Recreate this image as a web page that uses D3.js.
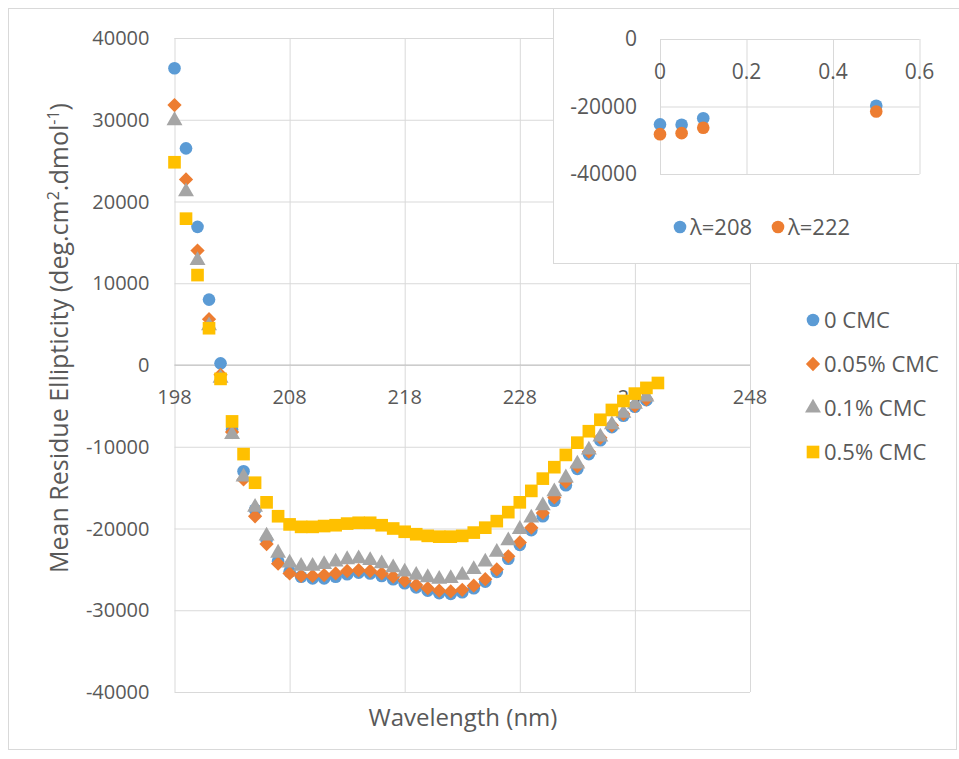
<!DOCTYPE html>
<html lang="en">

<head>
  <meta charset="UTF-8">
  <title>CD spectra</title>
  <script src="https://d3js.org/d3.v7.min.js"></script>
  <style>
    body {
      margin: 0;
      background: #fff;
    }

    text {
      font-family: "Open Sans", sans-serif;
      fill: #595959;
    }

    .grid line {
      stroke: #d9d9d9;
      stroke-width: 1;
    }
  </style>
</head>

<body>
  <div id="chart"></div>
  <script>
    // wavelengths, 1 nm steps
    const wavelengths = d3.range(198, 241);

    const cmc0 = [36300, 26500, 16900, 8000, 200, -7900, -13000, -17700, -21400, -24000,
      -25300, -25900, -26100, -26100, -25900, -25600, -25400, -25500, -25800, -26200,
      -26700, -27200, -27600, -27900, -28000, -27800, -27300, -26500, -25300, -23700,
      -22000, -20200, -18500, -16600, -14700, -12700, -10900, -9200, -7600, -6200,
      -5100, -4300];
    const cmc005 = [31800, 22700, 14000, 5600, -1200, -8200, -14000, -18500, -21900, -24300,
      -25500, -25800, -25800, -25700, -25500, -25200, -25100, -25200, -25500, -25900,
      -26400, -26900, -27300, -27600, -27700, -27500, -27000, -26200, -25000, -23400,
      -21700, -19900, -18100, -16200, -14300, -12400, -10600, -8900, -7400, -6000,
      -5000, -4200];
    const cmc01 = [29900, 21200, 12800, 4800, -1600, -8500, -13700, -17400, -20900, -23000,
      -24200, -24600, -24600, -24400, -24100, -23800, -23700, -23900, -24300, -24800,
      -25300, -25700, -26000, -26200, -26100, -25700, -25000, -24100, -22900, -21500,
      -20100, -18700, -17200, -15500, -13800, -12100, -10400, -8800, -7300, -5900,
      -4800, -3900];
    const cmc05 = [24800, 17900, 11000, 4500, -1700, -6900, -10900, -14400, -16800, -18500,
      -19500, -19800, -19800, -19700, -19600, -19400, -19300, -19300, -19600, -20000,
      -20400, -20700, -20900, -21000, -21000, -20900, -20500, -19900, -19100, -18000,
      -16800, -15400, -13900, -12500, -11000, -9500, -8100, -6700, -5500, -4400,
      -3500, -2800, -2200];

    const seriesNames = ["0 CMC", "0.05% CMC", "0.1% CMC", "0.5% CMC"];
    const xTicks = [198, 208, 218, 228, 238, 248];
    const yTicks = [40000, 30000, 20000, 10000, 0, -10000, -20000, -30000, -40000];

    // inset: concentration vs ellipticity at two wavelengths
    const insetConc = [0, 0.05, 0.1, 0.5];
    const lambda208 = [-25300, -25400, -23500, -19800];
    const lambda222 = [-28200, -27900, -26300, -21500];
    const insetNames = ["λ=208", "λ=222"];
    const insetXTicks = [0, 0.2, 0.4, 0.6];
    const insetYTicks = [0, -20000, -40000];

    const width = 959;
    const height = 759;

    const svg = d3.select("#chart").append("svg")
      .attr("width", width)
      .attr("height", height);

    svg.append("rect")
      .attr("x", 8.5).attr("y", 8.5)
      .attr("width", 948).attr("height", 741)
      .attr("fill", "#fff")
      .attr("stroke", "#d9d9d9");

    const plot = { left: 174.5, right: 750, top: 38, bottom: 692 };

    const x = d3.scaleLinear().domain([198, 248]).range([plot.left, plot.right]);
    const y = d3.scaleLinear().domain([-40000, 40000]).range([plot.bottom, plot.top]);

    // gridlines
    svg.append("g")
      .attr("class", "grid")
      .attr("transform", `translate(0,${plot.bottom})`)
      .call(d3.axisBottom(x).tickValues(xTicks).tickSize(-(plot.bottom - plot.top)).tickFormat(""))
      .call(g => g.select(".domain").remove());

    svg.append("g")
      .attr("class", "grid")
      .attr("transform", `translate(${plot.left},0)`)
      .call(d3.axisLeft(y).tickValues(yTicks).tickSize(-(plot.right - plot.left)).tickFormat(""))
      .call(g => g.select(".domain").remove());

    // x axis crosses at y=0
    svg.append("line")
      .attr("x1", plot.left).attr("x2", plot.right)
      .attr("y1", y(0)).attr("y2", y(0))
      .attr("stroke", "#bfbfbf");

    svg.append("g")
      .selectAll("text")
      .data(xTicks)
      .join("text")
      .attr("x", d => x(d))
      .attr("y", y(0) + 39)
      .attr("text-anchor", "middle")
      .attr("font-size", 20)
      .text(d => d);

    svg.append("g")
      .selectAll("text")
      .data(yTicks)
      .join("text")
      .attr("x", plot.left - 25)
      .attr("y", d => y(d))
      .attr("dy", "0.35em")
      .attr("text-anchor", "end")
      .attr("font-size", 20)
      .text(d => d);

    // axis titles
    svg.append("text")
      .attr("x", 463)
      .attr("y", 726)
      .attr("text-anchor", "middle")
      .attr("font-size", 24)
      .text("Wavelength (nm)");

    const yTitle = svg.append("text")
      .attr("transform", "translate(68,338) rotate(-90)")
      .attr("text-anchor", "middle")
      .attr("font-size", 25);
    yTitle.append("tspan").text("Mean Residue Ellipticity (deg.cm");
    yTitle.append("tspan").attr("font-size", 16).attr("dy", -9).text("2");
    yTitle.append("tspan").attr("dy", 9).text(".dmol");
    yTitle.append("tspan").attr("font-size", 16).attr("dy", -9).text("-1");
    yTitle.append("tspan").attr("dy", 9).text(")");

    const colors = ["#5b9bd5", "#ed7d31", "#a5a5a5", "#ffc000"];
    const shapes = [
      d3.symbol().type(d3.symbolCircle).size(125),
      d3.symbol().type(d3.symbolDiamond2).size(130),
      d3.symbol().type(d3.symbolTriangle).size(110),
      d3.symbol().type(d3.symbolSquare).size(160)
    ];

    const allSeries = [cmc0, cmc005, cmc01, cmc05];

    allSeries.forEach((values, i) => {
      svg.append("g")
        .selectAll("path")
        .data(values)
        .join("path")
        .attr("transform", (d, j) => `translate(${x(wavelengths[j])},${y(d)})`)
        .attr("d", shapes[i]())
        .attr("fill", colors[i]);
    });

    // legend
    const legend = svg.append("g")
      .selectAll("g")
      .data(seriesNames)
      .join("g")
      .attr("transform", (d, i) => `translate(813,${320 + i * 44})`);

    legend.append("path")
      .attr("d", (d, i) => shapes[i]())
      .attr("fill", (d, i) => colors[i]);

    legend.append("text")
      .attr("x", 11)
      .attr("dy", "0.35em")
      .attr("font-size", 22)
      .text(d => d);

    // inset chart
    svg.append("rect")
      .attr("x", 553.5).attr("y", 8.5)
      .attr("width", 420).attr("height", 255)
      .attr("fill", "#fff")
      .attr("stroke", "#d9d9d9");

    const inset = { left: 660, right: 919.5, top: 39, bottom: 174 };
    const ix = d3.scaleLinear().domain([0, 0.6]).range([inset.left, inset.right]);
    const iy = d3.scaleLinear().domain([-40000, 0]).range([inset.bottom, inset.top]);

    svg.append("g")
      .attr("class", "grid")
      .attr("transform", `translate(0,${inset.bottom})`)
      .call(d3.axisBottom(ix).tickValues(insetXTicks).tickSize(-(inset.bottom - inset.top)).tickFormat(""))
      .call(g => g.select(".domain").remove());

    svg.append("g")
      .attr("class", "grid")
      .attr("transform", `translate(${inset.left},0)`)
      .call(d3.axisLeft(iy).tickValues(insetYTicks).tickSize(-(inset.right - inset.left)).tickFormat(""))
      .call(g => g.select(".domain").remove());

    svg.append("g")
      .selectAll("text")
      .data(insetXTicks)
      .join("text")
      .attr("x", d => ix(d))
      .attr("y", iy(0) + 40)
      .attr("text-anchor", "middle")
      .attr("font-size", 21)
      .text(d => d);

    svg.append("g")
      .selectAll("text")
      .data(insetYTicks)
      .join("text")
      .attr("x", inset.left - 23)
      .attr("y", d => iy(d))
      .attr("dy", "0.35em")
      .attr("text-anchor", "end")
      .attr("font-size", 21)
      .text(d => d);

    const insetSeries = [lambda208, lambda222];
    const insetCircle = d3.symbol().type(d3.symbolCircle).size(125);

    insetSeries.forEach((values, i) => {
      svg.append("g")
        .selectAll("path")
        .data(values)
        .join("path")
        .attr("transform", (d, j) => `translate(${ix(insetConc[j])},${iy(d)})`)
        .attr("d", insetCircle())
        .attr("fill", colors[i]);
    });

    const insetLegend = svg.append("g")
      .selectAll("g")
      .data(insetNames)
      .join("g")
      .attr("transform", (d, i) => `translate(${680 + i * 98},227)`);

    insetLegend.append("path")
      .attr("d", insetCircle())
      .attr("fill", (d, i) => colors[i]);

    insetLegend.append("text")
      .attr("x", 10)
      .attr("dy", "0.35em")
      .attr("font-size", 22)
      .text(d => d);
  </script>
</body>

</html>
